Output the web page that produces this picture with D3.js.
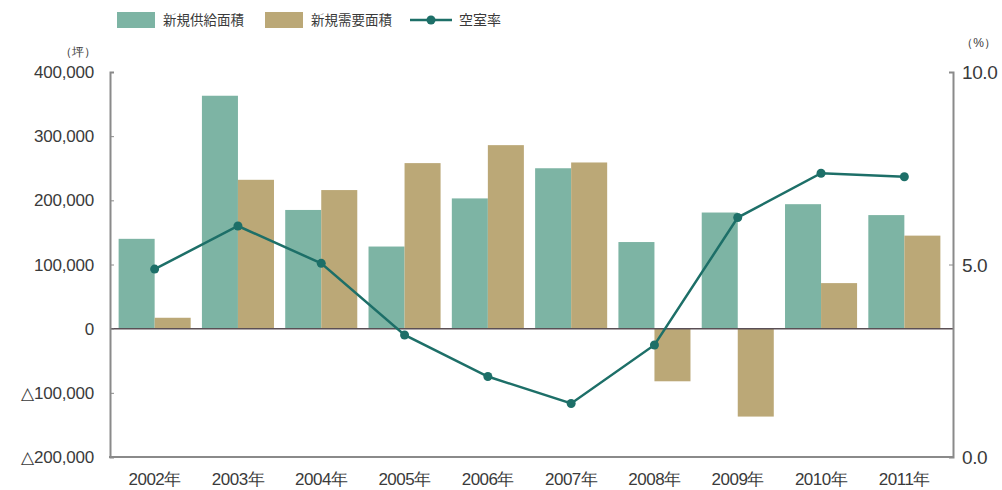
<!DOCTYPE html>
<html><head><meta charset="utf-8">
<script src="https://cdn.jsdelivr.net/npm/d3@7"></script>
<style>
body{margin:0;background:#fff;}
svg{display:block;font-family:"Liberation Sans",Arial,sans-serif;}
</style></head>
<body><svg id="c" width="1002" height="490"></svg>
<script>
const years = ["2002年","2003年","2004年","2005年","2006年","2007年","2008年","2009年","2010年","2011年"];
const supply = [140000,363000,185000,128000,203000,250000,135000,181000,194000,177000];
const demand = [17000,232000,216000,258000,286000,259000,-82000,-137000,71000,145000];
const vacancy = [4.88,6.0,5.03,3.17,2.09,1.39,2.91,6.22,7.37,7.28];
const leftTicks = [400000,300000,200000,100000,0,-100000,-200000];
const rightTicks = [10,5,0];
const seriesNames = ["新規供給面積","新規需要面積","空室率"];

const svg = d3.select("#c");
const L = 110, R = 953, T = 72, B = 457;
const cGreen = "#7db4a4", cTan = "#bba877", cLine = "#1d6f68", cAxis = "#8a8a8a", cText = "#3a3a3a";

const x = d3.scaleBand().domain(years).range([113, 946]).padding(0);
const gw = x.bandwidth() * 0.865, bw = gw / 2;
const y = d3.scaleLinear().domain([-200000, 400000]).range([B, T]);
const y2 = d3.scaleLinear().domain([0, 10]).range([B, T]);

const fmt = v => (v < 0 ? "△" : "") + d3.format(",")(Math.abs(v));

// bars
const g = svg.append("g");
years.forEach((yr, i) => {
  const cx = x(yr) + x.bandwidth() / 2;
  const s = supply[i], d = demand[i];
  g.append("rect").attr("x", cx - bw).attr("width", bw)
    .attr("y", y(Math.max(0, s))).attr("height", Math.abs(y(s) - y(0))).attr("fill", cGreen);
  g.append("rect").attr("x", cx).attr("width", bw)
    .attr("y", y(Math.max(0, d))).attr("height", Math.abs(y(d) - y(0))).attr("fill", cTan);
});

// zero line
svg.append("line").attr("x1", L).attr("x2", R).attr("y1", y(0)).attr("y2", y(0))
  .attr("stroke", "#5a4f55").attr("stroke-width", 1.5);

// left axis
const la = svg.append("g").attr("transform", `translate(${L},0)`)
  .call(d3.axisRight(y).tickValues(leftTicks).tickSize(4).tickFormat(""));
la.select(".domain").attr("stroke", cAxis).attr("stroke-width", 2);
la.selectAll(".tick line").attr("stroke", cAxis);
svg.append("g").selectAll("text").data(leftTicks).join("text")
  .attr("x", 94).attr("y", d => y(d) + 6).attr("text-anchor", "end")
  .attr("font-size", 17).attr("fill", cText).attr("letter-spacing", -0.2).text(fmt);

// right axis
const ra = svg.append("g").attr("transform", `translate(${R},0)`)
  .call(d3.axisLeft(y2).tickValues(rightTicks).tickSize(4).tickFormat(""));
ra.select(".domain").attr("stroke", cAxis).attr("stroke-width", 2);
ra.selectAll(".tick line").attr("stroke", cAxis);
svg.append("g").selectAll("text").data(rightTicks).join("text")
  .attr("x", 962).attr("y", d => y2(d) + 7)
  .attr("font-size", 19).attr("fill", cText).attr("letter-spacing", -0.4).text(d => d3.format(".1f")(d));

// bottom line
svg.append("line").attr("x1", L - 1).attr("x2", R + 1).attr("y1", B).attr("y2", B)
  .attr("stroke", cAxis).attr("stroke-width", 2);

// x labels
svg.append("g").selectAll("text").data(years).join("text")
  .attr("x", d => x(d) + x.bandwidth() / 2).attr("y", 485).attr("text-anchor", "middle")
  .attr("font-size", 17).attr("fill", cText).attr("letter-spacing", -0.5).text(d => d);

// unit labels
svg.append("text").attr("x", 96).attr("y", 56).attr("text-anchor", "end")
  .attr("font-size", 12).attr("fill", cText).text("（坪）");
svg.append("text").attr("x", 996).attr("y", 47).attr("text-anchor", "end")
  .attr("font-size", 12).attr("fill", cText).text("（%）");

// line
const line = d3.line().x((d, i) => x(years[i]) + x.bandwidth() / 2).y(d => y2(d));
svg.append("path").datum(vacancy).attr("d", line).attr("fill", "none")
  .attr("stroke", cLine).attr("stroke-width", 2.5);
svg.append("g").selectAll("circle").data(vacancy).join("circle")
  .attr("cx", (d, i) => x(years[i]) + x.bandwidth() / 2).attr("cy", d => y2(d))
  .attr("r", 4.5).attr("fill", cLine);

// legend
const lg = svg.append("g").attr("font-family", "'Noto Sans CJK JP',sans-serif");
lg.append("rect").attr("x", 117).attr("y", 12).attr("width", 38).attr("height", 16).attr("fill", cGreen);
lg.append("text").attr("x", 163).attr("y", 25).attr("font-size", 13.5).attr("fill", cText).text(seriesNames[0]);
lg.append("rect").attr("x", 265).attr("y", 12).attr("width", 38).attr("height", 16).attr("fill", cTan);
lg.append("text").attr("x", 311).attr("y", 25).attr("font-size", 13.5).attr("fill", cText).text(seriesNames[1]);
lg.append("line").attr("x1", 410).attr("x2", 452).attr("y1", 20).attr("y2", 20).attr("stroke", cLine).attr("stroke-width", 2.5);
lg.append("circle").attr("cx", 431).attr("cy", 20).attr("r", 4.5).attr("fill", cLine);
lg.append("text").attr("x", 459).attr("y", 25).attr("font-size", 14).attr("fill", cText).text(seriesNames[2]);
</script></body></html>
